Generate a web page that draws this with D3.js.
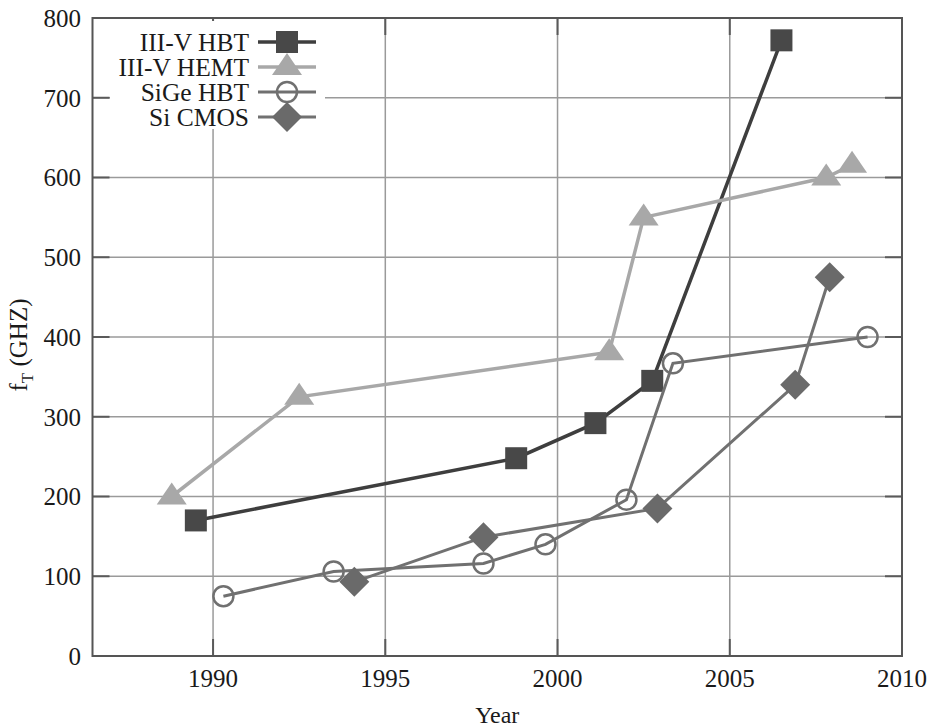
<!DOCTYPE html>
<html>
<head>
<meta charset="utf-8">
<script src="https://cdn.jsdelivr.net/npm/d3@7"></script>
<style>
  body { margin: 0; background: #fff; }
  svg { display: block; font-family: "Liberation Serif", "Times New Roman", serif; }
</style>
</head>
<body>
<svg width="934" height="727"></svg>
<script>
// values
var xTicks = [1990, 1995, 2000, 2005, 2010];
var yTicks = [0, 100, 200, 300, 400, 500, 600, 700, 800];

var hbtYear  = [1989.5, 1998.8, 2001.1, 2002.75, 2006.5];
var hbtFt    = [170, 248, 292, 345, 772];
var hemtYear = [1988.8, 1992.5, 2001.5, 2002.5, 2007.8, 2008.55];
var hemtFt   = [200, 325, 381, 550, 600, 616];
var sigeYear = [1990.3, 1993.5, 1997.85, 1999.65, 2002.0, 2003.35, 2009.0];
var sigeFt   = [75, 106, 116, 140, 196, 367, 400];
var cmosYear = [1994.1, 1997.85, 2002.9, 2006.9, 2007.9];
var cmosFt   = [93, 149, 185, 340, 475];

var seriesNames = ["III-V HBT", "III-V HEMT", "SiGe HBT", "Si CMOS"];

var svg = d3.select("svg"),
    pLeft = 92.5, pRight = 902, pTop = 18, pBottom = 656;

var x = d3.scaleLinear().domain([1986.5, 2010]).range([pLeft, pRight]);
var y = d3.scaleLinear().domain([0, 800]).range([pBottom, pTop]);

function zip(xs, ys) { return xs.map(function(v, i) { return [v, ys[i]]; }); }

var series = [
  {name: seriesNames[0], pts: zip(hbtYear, hbtFt),   line: "#3e3e3e", fill: "#484848", shape: "square",  lw: 3.5},
  {name: seriesNames[1], pts: zip(hemtYear, hemtFt), line: "#a8a8a8", fill: "#a8a8a8", shape: "triangle", lw: 3.5},
  {name: seriesNames[2], pts: zip(sigeYear, sigeFt), line: "#707070", fill: "none",    shape: "circle",  lw: 3},
  {name: seriesNames[3], pts: zip(cmosYear, cmosFt), line: "#717171", fill: "#6a6a6a", shape: "diamond", lw: 3}
];

var shapes = {
  square: "M-11,-11H11V11H-11Z",
  triangle: "M-15,8L15,8L0,-14Z",
  diamond: "M0,-15L15,0L0,15L-15,0Z"
};

// grid
var grid = svg.append("g").attr("stroke", "#9a9a9a").attr("stroke-width", 1.5);
grid.selectAll(".gx").data(xTicks.slice(0, -1)).enter().append("line")
    .attr("x1", function(d) { return x(d); }).attr("x2", function(d) { return x(d); })
    .attr("y1", pTop).attr("y2", pBottom);
grid.selectAll(".gy").data(yTicks.slice(1, -1)).enter().append("line")
    .attr("x1", pLeft).attr("x2", pRight)
    .attr("y1", function(d) { return y(d); }).attr("y2", function(d) { return y(d); });

// inward ticks on all four sides
var ticks = svg.append("g").attr("stroke", "#5a5a5a").attr("stroke-width", 2);
xTicks.forEach(function(t) {
  ticks.append("line").attr("x1", x(t)).attr("x2", x(t)).attr("y1", pBottom).attr("y2", pBottom - 17);
  ticks.append("line").attr("x1", x(t)).attr("x2", x(t)).attr("y1", pTop).attr("y2", pTop + 17);
});
yTicks.forEach(function(t) {
  ticks.append("line").attr("x1", pLeft).attr("x2", pLeft + 17).attr("y1", y(t)).attr("y2", y(t));
  ticks.append("line").attr("x1", pRight).attr("x2", pRight - 17).attr("y1", y(t)).attr("y2", y(t));
});

// frame
svg.append("rect")
    .attr("x", pLeft).attr("y", pTop)
    .attr("width", pRight - pLeft).attr("height", pBottom - pTop)
    .attr("fill", "none").attr("stroke", "#555").attr("stroke-width", 2);

// tick labels
svg.append("g").selectAll("text").data(xTicks).enter().append("text")
    .attr("x", function(d) { return x(d); })
    .attr("y", 678).attr("dy", "0.35em")
    .attr("text-anchor", "middle").attr("font-size", 25).attr("fill", "#1a1a1a")
    .text(function(d) { return d; });
svg.append("g").selectAll("text").data(yTicks).enter().append("text")
    .attr("x", 81)
    .attr("y", function(d) { return y(d); }).attr("dy", "0.35em")
    .attr("text-anchor", "end").attr("font-size", 25).attr("fill", "#1a1a1a")
    .text(function(d) { return d; });

// axis titles
svg.append("text")
    .attr("x", (pLeft + pRight) / 2).attr("y", 723)
    .attr("text-anchor", "middle").attr("font-size", 24).attr("fill", "#1a1a1a")
    .text("Year");
var yt = svg.append("text")
    .attr("transform", "translate(27,345) rotate(-90)")
    .attr("text-anchor", "middle").attr("font-size", 25).attr("fill", "#1a1a1a");
yt.append("tspan").text("f");
yt.append("tspan").attr("font-size", 17).attr("dy", 6).text("T");
yt.append("tspan").attr("dy", -6).text(" (GHZ)");

// series
var line = d3.line().x(function(d) { return x(d[0]); }).y(function(d) { return y(d[1]); });

function marker(g, s) {
  if (s.shape === "circle") {
    return g.append("circle").attr("r", 10)
        .attr("fill", "none").attr("stroke", s.line).attr("stroke-width", 2.5);
  }
  return g.append("path").attr("d", shapes[s.shape]).attr("fill", s.fill);
}

series.forEach(function(s) {
  var g = svg.append("g");
  g.append("path").datum(s.pts)
      .attr("d", line)
      .attr("fill", "none").attr("stroke", s.line).attr("stroke-width", s.lw);
  s.pts.forEach(function(p) {
    marker(g.append("g").attr("transform", "translate(" + x(p[0]) + "," + y(p[1]) + ")"), s);
  });
});

// legend
svg.append("rect").attr("x", 110).attr("y", 21).attr("width", 215).attr("height", 108).attr("fill", "#fff");
var legend = svg.append("g").selectAll("g").data(series).enter().append("g")
    .attr("transform", function(d, i) { return "translate(0," + (42 + i * 25) + ")"; });
legend.append("line")
    .attr("x1", 258).attr("x2", 316)
    .attr("stroke", function(d) { return d.line; })
    .attr("stroke-width", function(d) { return d.lw; });
legend.each(function(d) {
  marker(d3.select(this).append("g").attr("transform", "translate(287,0)"), d);
});
legend.append("text")
    .attr("x", 249).attr("dy", "0.35em")
    .attr("text-anchor", "end").attr("font-size", 25.5).attr("fill", "#1a1a1a")
    .text(function(d) { return d.name; });
</script>
</body>
</html>
